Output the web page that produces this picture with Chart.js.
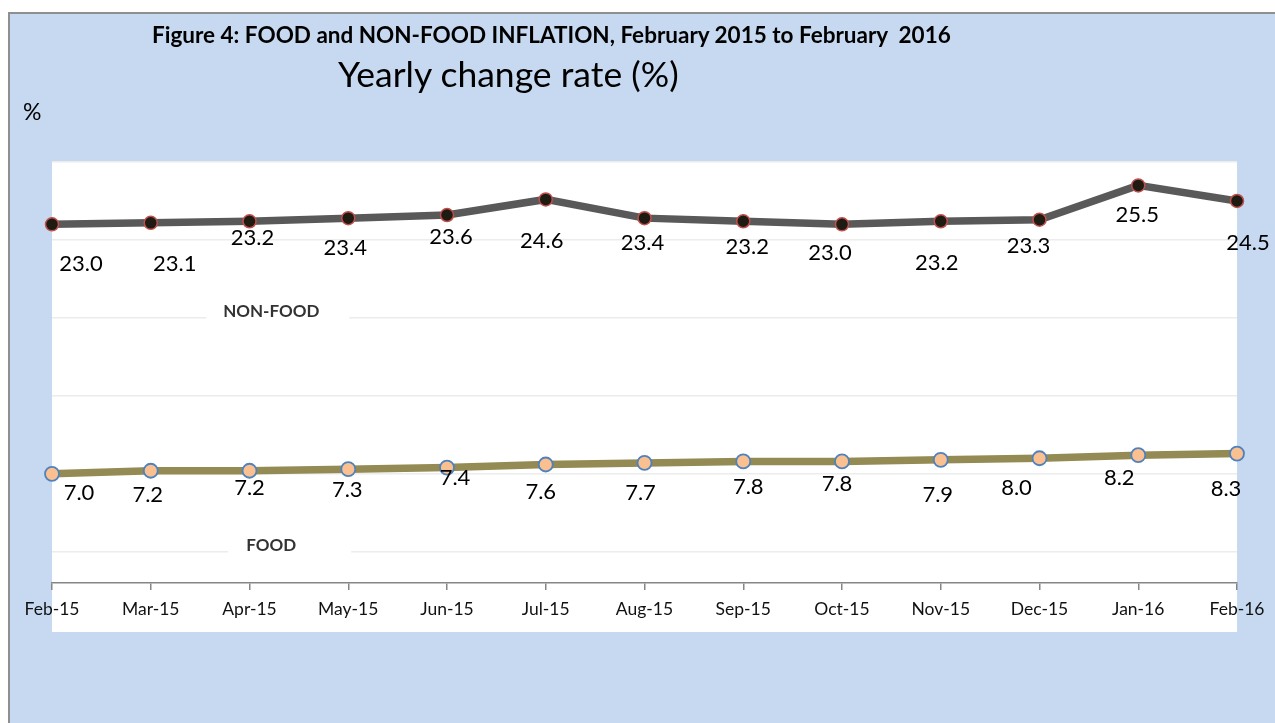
<!DOCTYPE html>
<html>
<head>
<meta charset="utf-8">
<title>Food and non-food inflation</title>
<script src="https://cdn.jsdelivr.net/npm/chart.js@4.4.1/dist/chart.umd.min.js"></script>
<style>
  body { margin: 0; background: #fff; font-family: Lato, "Open Sans", sans-serif; }
  #frame { position: absolute; left: 8px; top: 12px; width: 1267px; height: 711px;
           background: #c6d9f0; border-top: 2px solid #8f8f8f; border-left: 2px solid #8f8f8f; }
  #chart { position: absolute; left: 0; top: 0; }
  .txt { position: absolute; white-space: pre; color: #000; line-height: 1; }
  #title { left: 152px; top: 24px; font-size: 22.5px; font-weight: bold; }
  #subtitle { left: 338px; top: 56px; font-size: 35.5px; }
  #unit { left: 23px; top: 100px; font-size: 23px; }
</style>
</head>
<body>
<div id="frame"></div>
<canvas id="chart" width="1275" height="723"></canvas>
<div class="txt" id="title">Figure 4: FOOD and NON-FOOD INFLATION, February 2015 to February  2016</div>
<div class="txt" id="subtitle">Yearly change rate (%)</div>
<div class="txt" id="unit">%</div>
<script>
// data
const months = ['Feb-15', 'Mar-15', 'Apr-15', 'May-15', 'Jun-15', 'Jul-15', 'Aug-15',
                'Sep-15', 'Oct-15', 'Nov-15', 'Dec-15', 'Jan-16', 'Feb-16'];
const nonFood = [23.0, 23.1, 23.2, 23.4, 23.6, 24.6, 23.4, 23.2, 23.0, 23.2, 23.3, 25.5, 24.5];
const food = [7.0, 7.2, 7.2, 7.3, 7.4, 7.6, 7.7, 7.8, 7.8, 7.9, 8.0, 8.2, 8.3];
const gridValues = [0, 2, 7, 12, 17, 22, 27];

// where excel dropped each value label, relative to its point (dx, dy to baseline)
const nonFoodShift = [[29,47],[24,48],[3,24],[-3,37],[4,29],[-4,49],[-2,32],[4,33],[-12,36],[-4,49],[-11,33],[-1,37],[11,49]];
const foodShift = [[27,26],[-3,31],[0,24],[-1,28],[8,17],[-5,35],[-4,37],[5,33],[-5,30],[-3,42],[-23,37],[-19,30],[-11,42]];
const shifts = [nonFoodShift, foodShift];

// series names written inside the plot, sitting on a gridline
const seriesNames = [
  {text: 'NON-FOOD', at: 2.22, onGrid: 17, boxL: 65, boxR: 78},
  {text: 'FOOD', at: 2.22, onGrid: 2, boxL: 43, boxR: 80}
];

const plotBackground = {
  id: 'plotBackground',
  beforeDraw(chart) {
    const ctx = chart.ctx, a = chart.chartArea;
    ctx.save();
    ctx.fillStyle = '#ffffff';
    ctx.fillRect(a.left, a.top, a.right - a.left, a.bottom - a.top + 49);
    ctx.restore();
  }
};

const seriesNameLabels = {
  id: 'seriesNameLabels',
  beforeDatasetsDraw(chart) {
    const ctx = chart.ctx;
    const xs = chart.scales.x, ys = chart.scales.y;
    ctx.save();
    seriesNames.forEach(function(s) {
      const x = xs.getPixelForValue(s.at);
      const y = ys.getPixelForValue(s.onGrid);
      ctx.fillStyle = '#ffffff';
      ctx.fillRect(x - s.boxL, y - 20, s.boxL + s.boxR, 23);
      ctx.fillStyle = '#333333';
      ctx.font = 'bold 17px Lato';
      ctx.textAlign = 'center';
      ctx.textBaseline = 'alphabetic';
      ctx.fillText(s.text, x, y - 1);
    });
    ctx.restore();
  }
};

const valueLabels = {
  id: 'valueLabels',
  afterDatasetsDraw(chart) {
    const ctx = chart.ctx;
    ctx.save();
    ctx.font = '22px Lato';
    ctx.fillStyle = '#000000';
    ctx.textAlign = 'center';
    ctx.textBaseline = 'alphabetic';
    chart.data.datasets.forEach(function(ds, d) {
      const meta = chart.getDatasetMeta(d);
      meta.data.forEach(function(pt, i) {
        const s = shifts[d][i];
        ctx.fillText(ds.data[i].toFixed(1), pt.x + s[0], pt.y + s[1]);
      });
    });
    ctx.restore();
  }
};

const ctx = document.getElementById('chart').getContext('2d');
const myChart = new Chart(ctx, {
  type: 'line',
  data: {
    labels: months,
    datasets: [{
      label: 'NON-FOOD',
      data: nonFood,
      borderColor: '#595959',
      borderWidth: 7.5,
      pointRadius: 6.5,
      pointBorderWidth: 1.5,
      pointBackgroundColor: '#1e1b12',
      pointBorderColor: '#c0504d',
      tension: 0,
      clip: false
    }, {
      label: 'FOOD',
      data: food,
      borderColor: '#948a54',
      borderWidth: 7.5,
      pointRadius: 7,
      pointBorderWidth: 1.8,
      pointBackgroundColor: '#fac090',
      pointBorderColor: '#4f81bd',
      tension: 0,
      clip: false
    }]
  },
  options: {
    responsive: false,
    devicePixelRatio: 1,
    animation: false,
    layout: { padding: { left: 52, right: 38, top: 162, bottom: 0 } },
    plugins: {
      legend: { display: false },
      tooltip: { enabled: false }
    },
    scales: {
      x: {
        offset: false,
        afterFit(scale) { scale.height = 140; },
        border: { display: true, color: '#868686', width: 1.5 },
        grid: {
          drawOnChartArea: false,
          drawTicks: true,
          tickLength: 7,
          color: '#868686',
          lineWidth: 1.5
        },
        ticks: {
          color: '#111111',
          font: { family: 'Lato', size: 17.5 },
          padding: 9,
          maxRotation: 0,
          autoSkip: false
        }
      },
      y: {
        min: 0,
        max: 27,
        afterFit(scale) { scale.width = 0; },
        afterBuildTicks(scale) {
          scale.ticks = gridValues.map(v => ({ value: v }));
        },
        border: { display: false },
        grid: {
          drawTicks: false,
          color: c => (c.tick && c.tick.value === 0) ? 'rgba(0,0,0,0)' : '#ececec',
          lineWidth: 1.5
        },
        ticks: { display: false }
      }
    }
  },
  plugins: [plotBackground, seriesNameLabels, valueLabels]
});
</script>
</body>
</html>
